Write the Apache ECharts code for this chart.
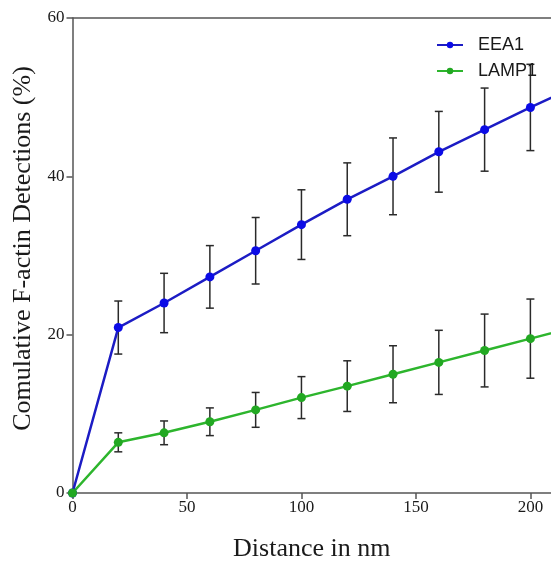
<!DOCTYPE html>
<html>
<head>
<meta charset="utf-8">
<script src="https://cdn.jsdelivr.net/npm/echarts@6/dist/echarts.min.js"></script>
<style>
html,body{margin:0;padding:0;background:#fff;}
#chart{width:551px;height:567px;}
</style>
</head>
<body>
<div id="chart"></div>
<script>
// Data
var distances = [0, 20, 40, 60, 80, 100, 120, 140, 160, 180, 200, 220];
var eea1Values = [0, 20.9, 24.0, 27.3, 30.6, 33.9, 37.1, 40.0, 43.1, 45.9, 48.7, 51.4];
var eea1Errors = [0, 3.35, 3.75, 3.95, 4.2, 4.4, 4.6, 4.85, 5.1, 5.25, 5.45, 5.6];
var lamp1Values = [0, 6.4, 7.6, 9.0, 10.5, 12.05, 13.5, 15.0, 16.5, 18.0, 19.5, 21.0];
var lamp1Errors = [0, 1.2, 1.5, 1.75, 2.2, 2.65, 3.2, 3.6, 4.05, 4.6, 5.0, 5.4];
var seriesNames = ['EEA1', 'LAMP1'];
var xTicks = [0, 50, 100, 150, 200];
var yTicks = [0, 20, 40, 60];

function pairs(vals) {
  return distances.map(function (d, i) { return [d, vals[i]]; });
}
function errData(vals, errs) {
  return distances.map(function (d, i) { return [d, vals[i] - errs[i], vals[i] + errs[i]]; });
}
function errorBarRender(params, api) {
  var x = api.value(0);
  var lo = api.coord([x, api.value(1)]);
  var hi = api.coord([x, api.value(2)]);
  if (Math.abs(hi[1] - lo[1]) < 0.5) return null;
  var w = 4;
  var style = { stroke: '#2a2a2a', lineWidth: 1.5 };
  return {
    type: 'group',
    children: [
      { type: 'line', shape: { x1: hi[0], y1: hi[1], x2: lo[0], y2: lo[1] }, style: style },
      { type: 'line', shape: { x1: hi[0] - w, y1: hi[1], x2: hi[0] + w, y2: hi[1] }, style: style },
      { type: 'line', shape: { x1: lo[0] - w, y1: lo[1], x2: lo[0] + w, y2: lo[1] }, style: style }
    ]
  };
}

var axisColor = '#555';
var serif = '"Liberation Serif", "Times New Roman", serif';

var chart = echarts.init(document.getElementById('chart'), null, { renderer: 'canvas' });
chart.setOption({
  animation: false,
  backgroundColor: '#fff',
  grid: { left: 72.5, right: 0, top: 18, bottom: 66, containLabel: false },
  legend: {
    orient: 'vertical',
    left: 431,
    top: 31,
    itemWidth: 26,
    itemHeight: 8,
    itemGap: 8,
    data: seriesNames,
    textStyle: { fontFamily: '"Liberation Sans", Arial, sans-serif', fontSize: 18, color: '#1a1a1a', padding: [0, 0, 0, 10] }
  },
  xAxis: [{
    type: 'value',
    min: 0,
    max: 209,
    interval: 50,
    name: 'Distance in nm',
    nameLocation: 'middle',
    nameGap: 43,
    nameTextStyle: { fontFamily: serif, fontSize: 26, color: '#1a1a1a' },
    axisLine: { show: true, lineStyle: { color: axisColor, width: 1.5 } },
    axisTick: { show: true, length: 6, lineStyle: { color: axisColor, width: 1.5 } },
    axisLabel: {
      fontFamily: serif, fontSize: 17, color: '#1a1a1a', margin: 6,
      showMaxLabel: false,
      formatter: function (v) { return xTicks.indexOf(v) >= 0 ? String(v) : ''; }
    },
    splitLine: { show: false }
  }, {
    type: 'value',
    position: 'top',
    min: 0,
    max: 209,
    axisLine: { show: true, onZero: false, lineStyle: { color: axisColor, width: 1.5 } },
    axisTick: { show: false },
    axisLabel: { show: false },
    splitLine: { show: false }
  }],
  yAxis: {
    type: 'value',
    min: 0,
    max: 60,
    interval: 20,
    name: 'Comulative F-actin Detections (%)',
    nameLocation: 'middle',
    nameGap: 28,
    nameTextStyle: { fontFamily: serif, fontSize: 26, color: '#1a1a1a', padding: [0, 0, 0, 14] },
    axisLine: { show: true, lineStyle: { color: axisColor, width: 1.5 } },
    axisTick: { show: true, length: 6, lineStyle: { color: axisColor, width: 1.5 } },
    axisLabel: {
      fontFamily: serif, fontSize: 17, color: '#1a1a1a', margin: 8,
      formatter: function (v) { return yTicks.indexOf(v) >= 0 ? String(v) : ''; }
    },
    splitLine: { show: false }
  },
  series: [
    {
      type: 'custom',
      name: 'EEA1 err',
      renderItem: errorBarRender,
      data: errData(eea1Values, eea1Errors),
      encode: { x: 0, y: [1, 2] },
      clip: true,
      z: 1,
      silent: true
    },
    {
      type: 'custom',
      name: 'LAMP1 err',
      renderItem: errorBarRender,
      data: errData(lamp1Values, lamp1Errors),
      encode: { x: 0, y: [1, 2] },
      clip: true,
      z: 1,
      silent: true
    },
    {
      type: 'line',
      name: seriesNames[0],
      data: pairs(eea1Values),
      symbol: 'circle',
      symbolSize: 9,
      clip: true,
      z: 3,
      lineStyle: { color: '#1c1cc4', width: 2.5 },
      itemStyle: { color: '#0b0be6' }
    },
    {
      type: 'line',
      name: seriesNames[1],
      data: pairs(lamp1Values),
      symbol: 'circle',
      symbolSize: 9,
      clip: true,
      z: 3,
      lineStyle: { color: '#2db52d', width: 2.5 },
      itemStyle: { color: '#22a822' }
    }
  ]
});
</script>
</body>
</html>
